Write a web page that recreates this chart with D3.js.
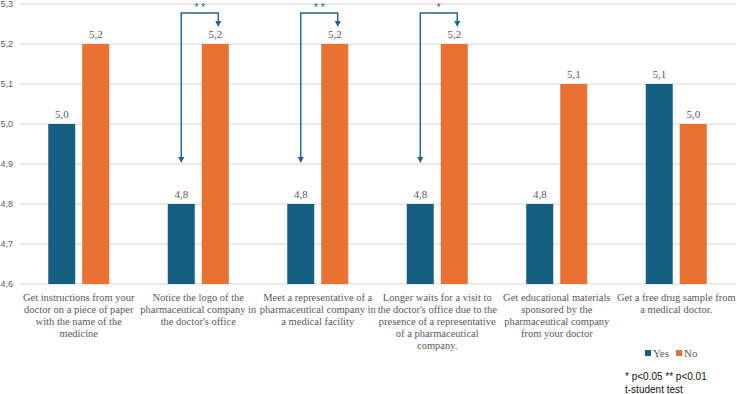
<!DOCTYPE html>
<html>
<head>
<meta charset="utf-8">
<script src="https://cdn.jsdelivr.net/npm/d3@7"></script>
<style>
  body { margin: 0; background: #fff; }
  svg { display: block; }
  .serif { font-family: "Liberation Serif", "Times New Roman", serif; }
  .sans { font-family: "Liberation Sans", Arial, sans-serif; }
</style>
</head>
<body>
<svg id="chart" width="737" height="394"></svg>
<script>
// survey answers, mean score by Yes / No group
var categories = [
  ["Get instructions from your", "doctor on a piece of paper", "with the name of the", "medicine"],
  ["Notice the logo of the", "pharmaceutical company in", "the doctor's office"],
  ["Meet a representative of a", "pharmaceutical company in", "a medical facility"],
  ["Longer waits for a visit to", "the doctor's office due to the", "presence of a representative", "of a pharmaceutical", "company."],
  ["Get educational materials", "sponsored by the", "pharmaceutical company", "from your doctor"],
  ["Get a free drug sample from", "a medical doctor."]
];
var series = ["Yes", "No"];
var yesValues = [5.0, 4.8, 4.8, 4.8, 4.8, 5.1];
var noValues = [5.2, 5.2, 5.2, 5.2, 5.1, 5.0];
var yTicks = [4.6, 4.7, 4.8, 4.9, 5.0, 5.1, 5.2, 5.3];
// significance brackets: category index -> stars
var sigIndex = [1, 2, 3];
var sigStars = ["* *", "* *", "*"];

var colors = { Yes: "#156082", No: "#E97132" };
var grey = "#595959";
var bracketCol = "#1F6391";

var svg = d3.select("#chart");
var ids = categories.map(function(d, i) { return i; });

var x0 = d3.scaleBand().domain(ids).range([19, 736]);
var groupW = 61;
var x1 = d3.scaleBand().domain(series).range([0, groupW]).paddingInner(7 / 34);
var y = d3.scaleLinear().domain([4.6, 5.3]).range([284, 4]);

function fmt(v) { return d3.format(".1f")(v).replace(".", ","); }

// grid
svg.append("g").selectAll("line").data(yTicks).enter().append("line")
  .attr("x1", 19).attr("x2", 736)
  .attr("y1", function(d) { return y(d); }).attr("y2", function(d) { return y(d); })
  .attr("stroke", "#e3e3e3").attr("stroke-width", 1.3);

// y tick labels
svg.append("g").selectAll("text").data(yTicks).enter().append("text")
  .attr("class", "sans")
  .attr("x", 13).attr("y", function(d) { return y(d) + 3; })
  .attr("text-anchor", "end")
  .attr("font-size", 9)
  .attr("fill", grey)
  .text(fmt);

var rows = ids.map(function(i) { return { i: i, Yes: yesValues[i], No: noValues[i] }; });

var groups = svg.append("g").selectAll("g").data(rows).enter().append("g")
  .attr("transform", function(d) { return "translate(" + (x0(d.i) + x0.bandwidth() / 2 - groupW / 2) + ",0)"; });

var bars = groups.selectAll("g").data(function(d) {
  return series.map(function(s) { return { key: s, value: d[s] }; });
}).enter();

bars.append("rect")
  .attr("x", function(d) { return x1(d.key); })
  .attr("width", x1.bandwidth())
  .attr("y", function(d) { return y(d.value); })
  .attr("height", function(d) { return y(4.6) - y(d.value); })
  .attr("fill", function(d) { return colors[d.key]; });

bars.append("text")
  .attr("class", "serif")
  .attr("x", function(d) { return x1(d.key) + x1.bandwidth() / 2; })
  .attr("y", function(d) { return y(d.value) - 6; })
  .attr("text-anchor", "middle")
  .attr("font-size", 11)
  .attr("fill", grey)
  .text(function(d) { return fmt(d.value); });

// category labels
var lab = svg.append("g").selectAll("text").data(categories).enter().append("text")
  .attr("class", "serif")
  .attr("text-anchor", "middle")
  .attr("font-size", 10.5)
  .attr("fill", grey)
  .attr("transform", function(d, i) { return "translate(" + (x0(i) + x0.bandwidth() / 2) + ",300.5)"; });
lab.selectAll("tspan").data(function(d) { return d; }).enter().append("tspan")
  .attr("x", 0).attr("y", function(d, j) { return j * 12.1; })
  .text(function(d) { return d; });

// significance brackets
var brTop = 13;
sigIndex.forEach(function(ci, k) {
  var gx = x0(ci) + x0.bandwidth() / 2 - groupW / 2;
  var xl = gx + x1("Yes") + x1.bandwidth() / 2;
  var xr = gx + x1("No") + x1.bandwidth() / 2 + 3;
  var yl = y(yesValues[ci]) - 41;
  var yr = y(noValues[ci]) - 17;
  svg.append("path")
    .attr("d", "M" + xl + "," + (yl - 4) + "V" + brTop + "H" + xr + "V" + (yr - 4))
    .attr("fill", "none").attr("stroke", bracketCol).attr("stroke-width", 1.4);
  [[xl, yl], [xr, yr]].forEach(function(p) {
    svg.append("path")
      .attr("d", "M" + (p[0] - 3) + "," + (p[1] - 6) + "L" + (p[0] + 3) + "," + (p[1] - 6) + "L" + p[0] + "," + p[1] + "z")
      .attr("fill", bracketCol);
  });
  svg.append("text")
    .attr("class", "sans")
    .attr("x", (xl + xr) / 2).attr("y", brTop - 2)
    .attr("text-anchor", "middle")
    .attr("font-size", 10)
    .attr("fill", "#44546A")
    .text(sigStars[k]);
});

// legend
var leg = svg.append("g").attr("transform", "translate(645,354)");
series.forEach(function(s, i) {
  var lx = i * 31;
  leg.append("rect").attr("x", lx).attr("y", -4).attr("width", 6).attr("height", 6).attr("fill", colors[s]);
  leg.append("text").attr("class", "serif").attr("x", lx + 8).attr("y", 2.5)
    .attr("font-size", 11)
    .attr("fill", grey).text(s);
});

// footnote
svg.append("text").attr("class", "sans").attr("x", 625).attr("y", 380)
  .attr("font-size", 10).attr("fill", "#111")
  .text("* p<0.05 ** p<0.01");
svg.append("text").attr("class", "sans").attr("x", 625).attr("y", 393)
  .attr("font-size", 10).attr("fill", "#111")
  .text("t-student test");
</script>
</body>
</html>
